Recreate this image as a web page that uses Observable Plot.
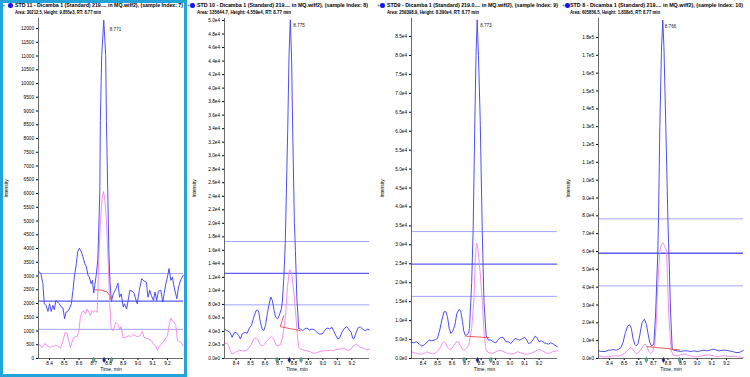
<!DOCTYPE html>
<html><head><meta charset="utf-8">
<script src="https://cdn.jsdelivr.net/npm/d3@7"></script>
<script src="https://cdn.jsdelivr.net/npm/@observablehq/plot@0.6"></script>
<style>
body{margin:0;background:#fff;width:750px;height:377px;overflow:hidden;position:relative;font-family:"Liberation Sans",Arial,sans-serif}
.panel{position:absolute;top:18px}
.t{position:absolute;font-weight:bold;font-size:4.9px;line-height:7px;white-space:nowrap;color:#000;transform-origin:0 0}
.plus{position:absolute;font-size:5.5px;line-height:7px;color:#555}
.dot{position:absolute;width:4.5px;height:4.5px;border-radius:50%;background:#1515f2}
.sel{position:absolute;left:0;top:0;width:187px;height:377px;box-sizing:border-box;border:3px solid #22a3d9;pointer-events:none;z-index:5}
</style></head><body>
<div class="sel"></div>
<script>
// ---------- data ----------
const xTickValues = [8.4, 8.5, 8.6, 8.7, 8.8, 8.9, 9.0, 9.1, 9.2];
const yTickSteps = [500, 2000, 5000, 10000];
const yTickMax = [12000, 50000, 85000, 180000];

const titles = [
  "STD 11 - Dicamba 1 (Standard) 219.... in MQ.wiff2), (sample Index: 7)",
  "STD 10 - Dicamba 1 (Standard) 219.... in MQ.wiff2), (sample Index: 8)",
  "STD9 - Dicamba 1 (Standard) 219.0.... in MQ.wiff2), (sample Index: 9)",
  "STD 8 - Dicamba 1 (Standard) 219.... in MQ.wiff2), (sample Index: 10)"
];
const subtitles = [
  "Area: 30212.5, Height: 9.855e3, RT: 8.77 min",
  "Area: 135644.7, Height: 4.559e4, RT: 8.77 min",
  "Area: 259398.9, Height: 8.390e4, RT: 8.77 min",
  "Area: 605856.5, Height: 1.838e5, RT: 8.77 min"
];
const apexLabels = ["8.771", "8.775", "8.773", "8.766"];

const std11Blue = [[8.325,3180],[8.341,3090],[8.355,2720],[8.364,1990],[8.377,1930],[8.389,1710],[8.400,1990],[8.411,1710],[8.423,1930],[8.432,1770],[8.443,2110],[8.455,2050],[8.466,1990],[8.480,1870],[8.491,1840],[8.502,1440],[8.511,1680],[8.523,1710],[8.534,1800],[8.548,1990],[8.559,2480],[8.568,2960],[8.582,3450],[8.591,3880],[8.602,4010],[8.614,3900],[8.627,3700],[8.639,3450],[8.650,3330],[8.661,3030],[8.670,2960],[8.682,2720],[8.691,2840],[8.700,2380],[8.707,2660],[8.718,3090],[8.727,3570],[8.730,4000],[8.741,6050],[8.745,8650],[8.754,11020],[8.768,12300],[8.781,11020],[8.786,8650],[8.795,6050],[8.802,4000],[8.810,2800],[8.820,2080],[8.832,2350],[8.848,2500],[8.864,2740],[8.875,2230],[8.886,2350],[8.900,1870],[8.909,1990],[8.923,1800],[8.934,2130],[8.945,2480],[8.961,2450],[8.973,2380],[8.984,2170],[8.995,1990],[9.009,2480],[9.025,2900],[9.041,2820],[9.057,2780],[9.068,2230],[9.080,2480],[9.091,2290],[9.105,2110],[9.116,2420],[9.127,2110],[9.139,2450],[9.155,2480],[9.168,2050],[9.177,2350],[9.189,2720],[9.200,2960],[9.211,3270],[9.223,2840],[9.234,2960],[9.245,2600],[9.264,2170],[9.275,2600],[9.291,2870],[9.309,3030]];
const std11Pink = [[8.325,490],[8.336,500],[8.348,400],[8.359,460],[8.370,550],[8.382,460],[8.393,430],[8.405,400],[8.416,460],[8.427,430],[8.443,490],[8.455,460],[8.473,370],[8.484,520],[8.495,740],[8.507,950],[8.518,920],[8.530,650],[8.541,400],[8.552,590],[8.564,770],[8.575,790],[8.586,790],[8.598,950],[8.609,1500],[8.620,1680],[8.632,1740],[8.643,1620],[8.655,1800],[8.666,1680],[8.677,1560],[8.689,1740],[8.700,1680],[8.711,1740],[8.723,1680],[8.728,2500],[8.733,3500],[8.745,5020],[8.758,5900],[8.766,6070],[8.775,5800],[8.786,5020],[8.798,3500],[8.808,2000],[8.818,1130],[8.830,1010],[8.836,1070],[8.848,1320],[8.864,1230],[8.877,1070],[8.886,1160],[8.898,740],[8.916,770],[8.939,830],[8.950,790],[8.966,870],[8.984,830],[8.995,790],[9.014,830],[9.030,980],[9.041,770],[9.057,740],[9.075,710],[9.091,650],[9.109,500],[9.120,460],[9.132,300],[9.143,430],[9.155,500],[9.177,650],[9.200,830],[9.211,1200],[9.223,1460],[9.234,1380],[9.245,1320],[9.257,1200],[9.268,650],[9.291,590],[9.309,460]];
const std11Red = [[8.707,2500],[8.750,2490],[8.791,2415],[8.809,2290],[8.820,2110]];
const std11Levels = [3090, 2085, 1060];
const std11Marks = [[8.700,"g"],[8.770,"b"],[8.820,"g"]];
const std11Apex = [8.768, 12300];

const std10Blue = [[8.320,4360],[8.338,4120],[8.357,3870],[8.373,3120],[8.384,3720],[8.400,3870],[8.419,3370],[8.430,2880],[8.442,3620],[8.460,3870],[8.476,3720],[8.492,4510],[8.506,4860],[8.522,6100],[8.538,7090],[8.548,7200],[8.557,6840],[8.568,5360],[8.580,4360],[8.591,4120],[8.603,4860],[8.614,6350],[8.626,7840],[8.640,9100],[8.651,8580],[8.663,7090],[8.674,6100],[8.688,5850],[8.702,6600],[8.713,7340],[8.720,8500],[8.730,12000],[8.740,17000],[8.757,34000],[8.766,45000],[8.775,50100],[8.784,44000],[8.791,34000],[8.803,20000],[8.810,16000],[8.820,9000],[8.833,4400],[8.844,4360],[8.860,4120],[8.874,4360],[8.890,4510],[8.906,4210],[8.925,4360],[8.943,4210],[8.959,3870],[8.975,3620],[8.994,3620],[9.012,4120],[9.028,4510],[9.046,4360],[9.063,4610],[9.074,4120],[9.090,3370],[9.104,2880],[9.115,3020],[9.131,3870],[9.150,4510],[9.166,4710],[9.182,4210],[9.196,3870],[9.205,3020],[9.214,2880],[9.228,3720],[9.242,4510],[9.258,4710],[9.274,4360],[9.292,4120],[9.311,4360],[9.322,4210]];
const std10Pink = [[8.320,2300],[8.338,2230],[8.350,1880],[8.361,1140],[8.373,640],[8.391,890],[8.407,1040],[8.423,1240],[8.442,1140],[8.460,1140],[8.476,1240],[8.492,1640],[8.506,2130],[8.522,2880],[8.538,3020],[8.552,2730],[8.568,2030],[8.584,1880],[8.598,2130],[8.614,2630],[8.630,3020],[8.644,3220],[8.660,2880],[8.676,2030],[8.690,1880],[8.706,2030],[8.720,3000],[8.741,6100],[8.755,10500],[8.768,13000],[8.775,13140],[8.785,12500],[8.800,9500],[8.814,6100],[8.825,3000],[8.835,1600],[8.844,1390],[8.867,1240],[8.890,1140],[8.913,990],[8.936,740],[8.959,890],[8.982,1040],[9.005,1140],[9.028,1140],[9.051,1240],[9.074,1140],[9.097,1390],[9.120,1390],[9.143,1540],[9.166,1240],[9.189,1240],[9.212,1980],[9.235,2030],[9.258,1640],[9.281,1540],[9.304,1240],[9.322,1390]];
const std10Red = [[8.730,6350],[8.705,4710],[8.844,4120]];
const std10Levels = [17300, 12600, 7940];
const std10Marks = [[8.683,"g"],[8.768,"b"],[8.849,"g"]];
const std10Apex = [8.775, 50100];

const std9Blue = [[8.320,4240],[8.338,4150],[8.354,4420],[8.373,3800],[8.391,3270],[8.407,3530],[8.423,4150],[8.442,4860],[8.460,4680],[8.476,4860],[8.488,5030],[8.499,5300],[8.515,7500],[8.529,10150],[8.545,12360],[8.557,12360],[8.568,11040],[8.580,7950],[8.591,6620],[8.603,7060],[8.619,8830],[8.633,11920],[8.649,12980],[8.660,12360],[8.672,9710],[8.679,7500],[8.690,6180],[8.699,6180],[8.713,6620],[8.720,8000],[8.735,20000],[8.745,33500],[8.757,62800],[8.765,80000],[8.773,89400],[8.782,80000],[8.794,62800],[8.808,33500],[8.820,15000],[8.835,6000],[8.851,4860],[8.867,4860],[8.883,4420],[8.902,4150],[8.918,5030],[8.936,5560],[8.952,5560],[8.971,4420],[8.987,4420],[9.005,3970],[9.021,4680],[9.035,5300],[9.051,5030],[9.067,4860],[9.086,5300],[9.102,5560],[9.115,4860],[9.127,3970],[9.143,4150],[9.159,5030],[9.173,5920],[9.184,5560],[9.200,4420],[9.217,4680],[9.235,4150],[9.251,3970],[9.265,3800],[9.281,4150],[9.299,3800],[9.327,3090]];
const std9Pink = [[8.320,1770],[8.338,1500],[8.361,1320],[8.384,1150],[8.407,1320],[8.423,1770],[8.442,1500],[8.465,1150],[8.488,1500],[8.506,2210],[8.522,3090],[8.534,4150],[8.545,4420],[8.557,3970],[8.568,2910],[8.584,2380],[8.598,2650],[8.614,3530],[8.630,4420],[8.644,4420],[8.656,3530],[8.672,2380],[8.683,2210],[8.699,2650],[8.715,3500],[8.735,8000],[8.750,15000],[8.760,26000],[8.768,30500],[8.778,29000],[8.795,22000],[8.810,14000],[8.822,6000],[8.833,2500],[8.845,1700],[8.856,1500],[8.879,1320],[8.902,1770],[8.925,2210],[8.943,2030],[8.959,1770],[8.982,1320],[9.005,1150],[9.028,1320],[9.051,1770],[9.074,1500],[9.097,1150],[9.120,1150],[9.143,1320],[9.166,1770],[9.189,2210],[9.205,2380],[9.223,2030],[9.246,1500],[9.269,1320],[9.292,1770],[9.327,2030]];
const std9Red = [[8.690,5920],[8.856,5470]];
const std9Levels = [33500, 24900, 16400];
const std9Marks = [[8.683,"g"],[8.775,"b"],[8.867,"g"]];
const std9Apex = [8.773, 89400];

const std8Blue = [[8.324,4290],[8.347,3920],[8.370,3920],[8.393,4670],[8.409,4670],[8.428,5040],[8.446,4670],[8.462,5220],[8.478,6160],[8.492,8960],[8.508,14550],[8.524,18290],[8.538,18850],[8.549,16980],[8.560,11380],[8.572,8020],[8.583,7090],[8.595,8400],[8.606,12690],[8.622,20150],[8.638,22020],[8.652,19220],[8.664,13620],[8.675,8960],[8.687,7090],[8.703,8000],[8.715,25000],[8.730,59000],[8.735,78500],[8.744,130000],[8.755,172000],[8.764,189800],[8.772,175000],[8.785,130000],[8.799,78500],[8.806,59000],[8.818,25000],[8.829,5200],[8.840,4670],[8.863,4290],[8.886,3920],[8.909,4290],[8.932,4290],[8.955,3920],[8.978,4290],[9.001,3920],[9.023,4290],[9.046,4670],[9.069,4290],[9.092,4850],[9.111,5220],[9.127,4850],[9.150,4290],[9.173,4670],[9.195,4670],[9.218,4290],[9.241,3920],[9.264,3360],[9.287,3360],[9.310,4290],[9.317,4670]];
const std8Pink = [[8.324,1490],[8.359,930],[8.393,930],[8.428,1490],[8.462,1490],[8.485,2050],[8.508,3360],[8.524,4670],[8.542,6160],[8.554,5780],[8.565,4290],[8.583,2800],[8.599,3360],[8.615,5220],[8.634,7650],[8.645,8020],[8.657,6530],[8.668,4290],[8.680,2800],[8.691,3360],[8.703,6160],[8.709,8000],[8.720,20000],[8.730,41600],[8.744,60000],[8.755,64000],[8.764,65000],[8.775,63500],[8.790,60000],[8.806,23000],[8.822,4300],[8.835,2000],[8.840,1870],[8.863,1490],[8.886,2050],[8.909,2430],[8.932,2050],[8.955,1490],[8.978,930],[9.001,930],[9.023,1310],[9.046,1680],[9.069,2050],[9.092,1870],[9.115,1490],[9.138,930],[9.161,1310],[9.184,1680],[9.207,1310],[9.230,930],[9.252,1310],[9.275,930],[9.317,560]];
const std8Red = [[8.657,6720],[8.879,4850]];
const std8Levels = [78300, 59000, 40700];
const std8Marks = [[8.652,"g"],[8.769,"b"],[8.879,"g"]];
const std8Apex = [8.764, 189800];

// ---------- layout ----------
const fmtE = v => {
  if (v === 0) return "0.0e0";
  const e = Math.floor(Math.log10(v) + 1e-9);
  return (v / Math.pow(10, e)).toFixed(1) + "e" + e;
};
const panels = [
  {left:0, width:186, ml:38, mr:3, xd:[8.325,9.309], yd:[0,12364], fmt:d3.format("d"), lo:34,
   blue:std11Blue, pink:std11Pink, red:std11Red, lv:std11Levels, mk:std11Marks, apex:std11Apex, adx:6, ady:9,
   plusX:2, dotX:8, textX:15, w1:168, w2:86},
  {left:188, width:187, ml:36, mr:6, xd:[8.32,9.322], yd:[0,50300], fmt:fmtE, lo:32,
   blue:std10Blue, pink:std10Pink, red:std10Red, lv:std10Levels, mk:std10Marks, apex:std10Apex, adx:3, ady:6,
   plusX:187, dotX:190, textX:197, w1:171, w2:94},
  {left:375, width:187, ml:36, mr:5, xd:[8.32,9.327], yd:[0,89750], fmt:fmtE, lo:31,
   blue:std9Blue, pink:std9Pink, red:std9Red, lv:std9Levels, mk:std9Marks, apex:std9Apex, adx:3, ady:6,
   plusX:377, dotX:380, textX:387, w1:171, w2:92},
  {left:562, width:188, ml:36, mr:7, xd:[8.324,9.317], yd:[0,190650], fmt:fmtE, lo:32,
   blue:std8Blue, pink:std8Pink, red:std8Red, lv:std8Levels, mk:std8Marks, apex:std8Apex, adx:2, ady:6,
   plusX:562, dotX:565, textX:570, w1:173, w2:90}
];

const BLUE = "#4646f2", PINK = "#f283ea", RED = "#ee4a4a";
const FONT = "'Liberation Sans', Arial, sans-serif";

function addLine(text, x, y, w) {
  const el = document.createElement("div");
  el.className = "t"; el.textContent = text;
  el.style.left = x + "px"; el.style.top = y + "px";
  document.body.appendChild(el);
  const actual = el.getBoundingClientRect().width;
  if (actual > 0) el.style.transform = "scaleX(" + (w / actual) + ")";
}

panels.forEach((p, i) => {
  const plus = document.createElement("div");
  plus.className = "plus"; plus.textContent = "+";
  plus.style.left = p.plusX + "px"; plus.style.top = "1.5px";
  document.body.appendChild(plus);
  const dot = document.createElement("div");
  dot.className = "dot"; dot.style.left = p.dotX + "px"; dot.style.top = "3.2px";
  document.body.appendChild(dot);
  addLine(titles[i], p.textX, 2, p.w1);
  addLine(subtitles[i], p.textX, 9, p.w2);

  const yTicks = d3.range(0, yTickMax[i] + yTickSteps[i] / 2, yTickSteps[i]);
  const plot = Plot.plot({
    width: p.width, height: 359,
    marginLeft: p.ml, marginRight: p.mr, marginTop: 0, marginBottom: 19,
    style: {fontSize: "4.7px", fontFamily: FONT, color: "#000", background: "transparent", overflow: "visible"},
    x: {domain: p.xd, ticks: xTickValues, tickFormat: d3.format(".1f"), tickSize: 2, tickPadding: 1,
        label: "Time, min", labelAnchor: "center", labelArrow: "none", labelOffset: 12},
    y: {domain: p.yd, ticks: yTicks, tickFormat: p.fmt, tickSize: 2, tickPadding: 2.5,
        label: "Intensity", labelAnchor: "center", labelArrow: "none", labelOffset: p.lo},
    marks: [
      Plot.ruleY([p.lv[0], p.lv[2]], {stroke: "#a3a3fb", strokeWidth: 1}),
      Plot.ruleY([p.lv[1]], {stroke: "#5c5cee", strokeWidth: 1.4}),
      Plot.line(p.pink, {x: d => d[0], y: d => d[1], stroke: PINK, strokeWidth: 0.9}),
      Plot.line(p.blue, {x: d => d[0], y: d => d[1], stroke: BLUE, strokeWidth: 0.95}),
      Plot.line(p.red, {x: d => d[0], y: d => d[1], stroke: RED, strokeWidth: 0.9}),
      Plot.ruleX([p.xd[0]], {stroke: "#444", strokeWidth: 0.8}),
      Plot.ruleY([0], {stroke: "#444", strokeWidth: 0.8}),
      Plot.dot(p.mk, {x: d => d[0], y: 0, dy: 1.5, symbol: "diamond", r: 1.6,
        fill: d => d[1] === "b" ? "#1a1aa8" : "#5cc0a0", stroke: "#234", strokeWidth: 0.4}),
      Plot.text([p.apex], {x: d => d[0], y: d => d[1], text: () => apexLabels[i], dx: p.adx, dy: p.ady,
        textAnchor: "start", fontSize: 4.6, fill: "#222"})
    ]
  });
  plot.classList.add("panel");
  plot.style.left = p.left + "px";
  plot.querySelectorAll('[aria-label="y-axis label"] text, [aria-label="x-axis label"] text').forEach(el => el.style.fontSize = "4.9px");
  document.body.appendChild(plot);
});
</script>
</body></html>
